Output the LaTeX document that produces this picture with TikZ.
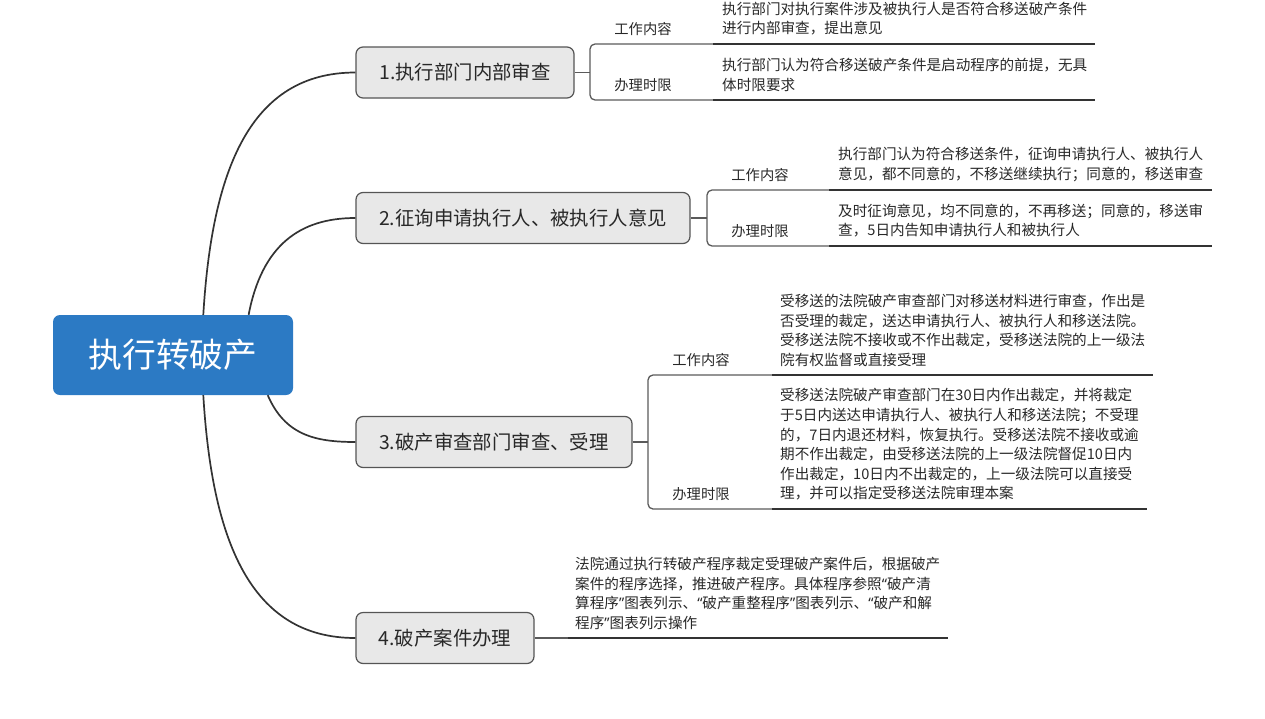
\documentclass[tikz,border=0pt]{standalone}
\usepackage{fontspec}
\setmainfont{Noto Sans CJK SC}
\newfontfamily\quotefont{Noto Sans}
\newcommand{\qopen}{{\quotefont “}}
\newcommand{\qclose}{{\quotefont ”}}
\definecolor{rootblue}{RGB}{44, 122, 196}
\definecolor{boxgray}{RGB}{232, 232, 232}
\definecolor{boxline}{RGB}{85, 85, 85}
\definecolor{linedark}{RGB}{51, 51, 51}
\definecolor{linegray}{RGB}{90, 90, 90}
\definecolor{textdark}{RGB}{40, 40, 40}
\usepackage{tikz}
\usetikzlibrary{positioning, calc}

\begin{document}
\begin{tikzpicture}[x=1pt, y=-1pt,
  rootbox/.style={fill=rootblue, rounded corners=7pt, minimum width=240pt, minimum height=80pt,
    inner sep=0pt, text=white, font=\fontsize{33.8}{40}\selectfont},
  topicbox/.style={draw=boxline, line width=1.2pt, fill=boxgray, rounded corners=7pt,
    minimum height=51pt, inner sep=0pt, text=textdark, font=\fontsize{19.4}{23}\selectfont},
  sublabel/.style={anchor=base, inner sep=0pt, text=textdark, font=\fontsize{14.3}{19.6}\selectfont},
  detail/.style={anchor=south west, align=left, inner sep=0pt, text=textdark,
    font=\fontsize{14.6}{19.6}\selectfont},
  branch/.style={linedark, line width=1.7pt},
  bracket/.style={linegray, line width=1.3pt, rounded corners=5pt},
  contentrule/.style={linedark, line width=1.8pt}]
  \useasboundingbox (0,0) rectangle (1265,718);

  \node[rootbox] (root) at (173,355) {执行转破产};

  \node[topicbox, minimum width=218pt] (t1) at (465,72.5) {1.执行部门内部审查};
  \node[topicbox, minimum width=334pt] (t2) at (523,218) {2.征询申请执行人、被执行人意见};
  \node[topicbox, minimum width=276pt] (t3) at (494,442) {3.破产审查部门审查、受理};
  \node[topicbox, minimum width=178pt] (t4) at (445,638) {4.破产案件办理};

  \draw[branch] (root.53) .. controls (212,170) and (250,72.5) .. (t1.west);
  \draw[branch] (root.28) .. controls (262,245) and (300,218) .. (t2.west);
  \draw[branch] (root.-23) .. controls (285,435) and (315,442) .. (t3.west);
  \draw[branch] (root.-53) .. controls (212,540) and (250,638) .. (t4.west);

  % Branch 1
  \coordinate (k1) at (590,72.5);
  \coordinate (w11) at (713,44);  \coordinate (e11) at (1095,44);
  \coordinate (w12) at (713,100); \coordinate (e12) at (1095,100);
  \node[sublabel] (l11) at (643,34.4) {工作内容};
  \node[sublabel] (l12) at (643,90.4) {办理时限};
  \node[detail] (d11) at (722,35.7) {执行部门对执行案件涉及被执行人是否符合移送破产条件\\进行内部审查，提出意见};
  \node[detail] (d12) at (722,91.7) {执行部门认为符合移送破产条件是启动程序的前提，无具\\体时限要求};
  \draw[bracket] (t1.east) -- (k1);
  \draw[bracket] (w11) -| (k1) |- (w12);
  \draw[contentrule] (w11) -- (e11);
  \draw[contentrule] (w12) -- (e12);

  % Branch 2
  \coordinate (k2) at (707,218);
  \coordinate (w21) at (829,190); \coordinate (e21) at (1212,190);
  \coordinate (w22) at (829,246); \coordinate (e22) at (1212,246);
  \node[sublabel] (l21) at (760,180.4) {工作内容};
  \node[sublabel] (l22) at (760,236.4) {办理时限};
  \node[detail] (d21) at (838,181.7) {执行部门认为符合移送条件，征询申请执行人、被执行人\\意见，都不同意的，不移送继续执行；同意的，移送审查};
  \node[detail] (d22) at (838,237.7) {及时征询意见，均不同意的，不再移送；同意的，移送审\\查，5日内告知申请执行人和被执行人};
  \draw[bracket] (t2.east) -- (k2);
  \draw[bracket] (w21) -| (k2) |- (w22);
  \draw[contentrule] (w21) -- (e21);
  \draw[contentrule] (w22) -- (e22);

  % Branch 3
  \coordinate (k3) at (648,442);
  \coordinate (w31) at (772,375); \coordinate (e31) at (1153,375);
  \coordinate (w32) at (772,509); \coordinate (e32) at (1147,509);
  \node[sublabel] (l31) at (701,365.4) {工作内容};
  \node[sublabel] (l32) at (701,499.4) {办理时限};
  \node[detail] (d31) at (780,366.7) {受移送的法院破产审查部门对移送材料进行审查，作出是\\否受理的裁定，送达申请执行人、被执行人和移送法院。\\受移送法院不接收或不作出裁定，受移送法院的上一级法\\院有权监督或直接受理};
  \node[detail] (d32) at (780,500.7) {受移送法院破产审查部门在30日内作出裁定，并将裁定\\于5日内送达申请执行人、被执行人和移送法院；不受理\\的，7日内退还材料，恢复执行。受移送法院不接收或逾\\期不作出裁定，由受移送法院的上一级法院督促10日内\\作出裁定，10日内不出裁定的，上一级法院可以直接受\\理，并可以指定受移送法院审理本案};
  \draw[bracket] (t3.east) -- (k3);
  \draw[bracket] (w31) -| (k3) |- (w32);
  \draw[contentrule] (w31) -- (e31);
  \draw[contentrule] (w32) -- (e32);

  % Branch 4
  \coordinate (w4) at (568,638); \coordinate (e4) at (948,638);
  \node[detail] (d4) at (575,629.7) {法院通过执行转破产程序裁定受理破产案件后，根据破产\\案件的程序选择，推进破产程序。具体程序参照\qopen 破产清\\算程序\qclose 图表列示、\qopen 破产重整程序\qclose 图表列示、\qopen 破产和解\\程序\qclose 图表列示操作};
  \draw[bracket] (t4.east) -- (w4);
  \draw[contentrule] (w4) -- (e4);
\end{tikzpicture}
\end{document}
